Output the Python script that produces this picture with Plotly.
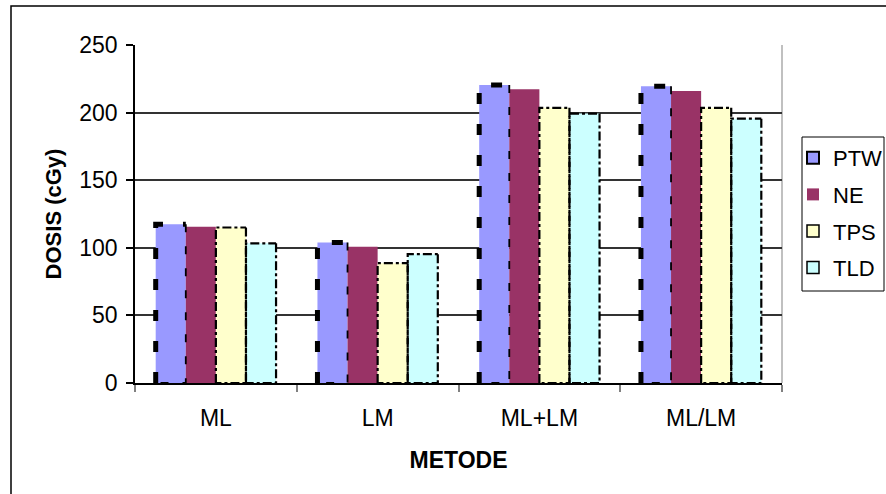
import plotly.graph_objects as go

# Dose readings per method and detector
categories = ["ML", "LM", "ML+LM", "ML/LM"]
ptw = [117.4, 104, 220.5, 219.5]
ne = [115.6, 100.8, 217.3, 216]
tps = [115, 88.6, 203.5, 203.5]
tld = [103.3, 95.3, 199.3, 195.5]
series_names = ["PTW", "NE", "TPS", "TLD"]
y_ticks = [0, 50, 100, 150, 200, 250]

series = [ptw, ne, tps, tld]
fills = ["#9999FF", "#993366", "#FFFFCC", "#CCFFFF"]
# dashed outline styles per series: (left+top style, right+bottom style)
outlines = [
    (dict(width=5, dash="11px,20px"), dict(width=1.8, dash="8px,14px")),
    None,
    (dict(width=2.2, dash="9px,3px,3px,3px"), dict(width=2.2, dash="9px,3px,3px,3px")),
    (dict(width=2.2, dash="9px,3px,3px,3px"), dict(width=2.2, dash="9px,3px,3px,3px")),
]

W, H = 886, 494
ml, mr, mt, mb = 135, 104, 45, 111
bar_w = 0.186
xs = list(range(len(categories)))

fig = go.Figure()

for k, (name, vals) in enumerate(zip(series_names, series)):
    off = -2 * bar_w + k * bar_w
    fig.add_trace(go.Bar(
        x=xs, y=vals, width=bar_w, offset=off,
        marker=dict(color=fills[k], line=dict(width=0)),
        name=name, showlegend=False,
    ))

# dashed borders around the bars, following each bar's value
for k, vals in enumerate(series):
    st = outlines[k]
    if st is None:
        continue
    off = -2 * bar_w + k * bar_w
    ax, ay, bx, by = [], [], [], []
    for xi, v in zip(xs, vals):
        x0, x1 = xi + off, xi + off + bar_w
        ax += [x0, x0, x1, None]
        ay += [0, v, v, None]
        bx += [x1, x1, x0, None]
        by += [v, 0, 0, None]
    for (sx, sy), style in zip(((ax, ay), (bx, by)), st):
        fig.add_trace(go.Scatter(
            x=sx, y=sy, mode="lines", connectgaps=False,
            line=dict(color="black", width=style["width"], dash=style["dash"]),
            showlegend=False, hoverinfo="skip",
        ))

# legend keys
legend_lines = [dict(color="black", width=2), dict(width=0),
                dict(color="black", width=1.5), dict(color="black", width=1.5)]
for k, name in enumerate(series_names):
    fig.add_trace(go.Bar(
        x=[None], y=[None], name=name, legendgroup=name,
        marker=dict(color=fills[k], line=legend_lines[k]),
    ))

fig.update_layout(
    width=W, height=H,
    margin=dict(l=ml, r=mr, t=mt, b=mb, autoexpand=False),
    paper_bgcolor="white", plot_bgcolor="white",
    barmode="overlay",
    font=dict(family="Liberation Sans, Arial, sans-serif", size=23, color="black"),
    legend=dict(
        xref="container", yref="container",
        x=793 / W, xanchor="left", y=1 - 137 / H, yanchor="top",
        borderwidth=0, bgcolor="rgba(0,0,0,0)",
        font=dict(size=22), traceorder="grouped", tracegroupgap=5,
        itemwidth=30,
    ),
    xaxis=dict(
        range=[-0.5, len(categories) - 0.5],
        tickvals=xs, ticktext=categories, ticks="", ticklen=0,
        showgrid=False, zeroline=False,
        showline=True, linecolor="black", linewidth=1.5,
        ticklabelstandoff=14,
        minor=dict(tick0=-0.5, dtick=1, ticks="outside", ticklen=7,
                   tickcolor="#808080", tickwidth=2, showgrid=False),
        title=dict(text="<b>METODE</b>", font=dict(size=23), standoff=22),
    ),
    yaxis=dict(
        range=[0, 250], tickvals=y_ticks,
        ticks="outside", ticklen=7, tickcolor="black", tickwidth=1.5,
        showgrid=True, gridcolor="#333333", gridwidth=1.6,
        zeroline=False, showline=True, linecolor="black", linewidth=1.5,
        ticklabelstandoff=4,
        title=dict(text="<b>DOSIS (cGy)</b>", font=dict(size=22), standoff=12),
    ),
)

pw, ph = W - ml - mr, H - mt - mb

def px_x(v):
    return (v - ml) / pw

def px_y(v):
    return (H - mb - v) / ph

# light frame on the right side of the plot area
fig.add_shape(type="line", xref="paper", yref="paper", x0=1, x1=1, y0=0, y1=1,
              line=dict(color="#c0c0c0", width=2), layer="below")

# legend frame
fig.add_shape(type="rect", xref="paper", yref="paper",
              x0=px_x(802), x1=px_x(884), y0=px_y(291), y1=px_y(137),
              line=dict(color="black", width=1), fillcolor="rgba(0,0,0,0)")

# outer chart border
fig.add_shape(type="rect", xref="paper", yref="paper",
              x0=px_x(11), x1=px_x(W + 5), y0=px_y(H + 5), y1=px_y(6),
              line=dict(color="black", width=1.5), fillcolor="rgba(0,0,0,0)")

fig.write_html("out.html")
